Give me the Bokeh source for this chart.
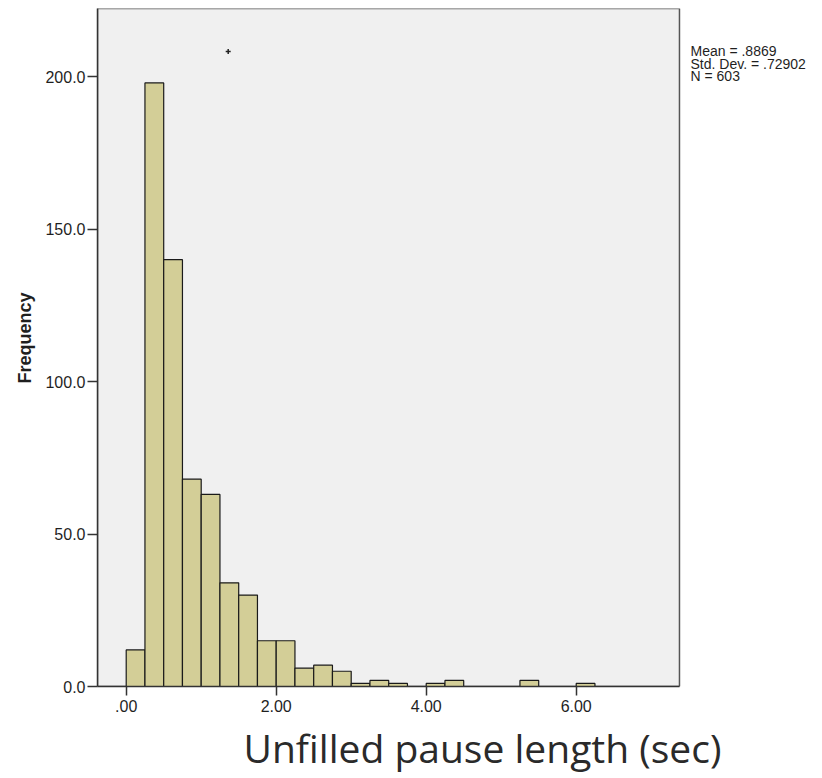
import numpy as np
from bokeh.plotting import figure
from bokeh.models import FixedTicker, PrintfTickFormatter, Range1d, Label, ColumnDataSource, Title, BoxAnnotation
from bokeh.embed import file_html
from bokeh.resources import INLINE

# ---- data ----
bin_start = 0.0
bin_width = 0.25
counts = [12, 198, 140, 68, 63, 34, 30, 15, 15, 6, 7, 5, 1, 2, 1, 0, 1, 2, 0, 0, 0, 2, 0, 0, 1]
xtick_values = [0, 2, 4, 6]
xtick_labels = [".00", "2.00", "4.00", "6.00"]
ytick_values = [0, 50, 100, 150, 200]
stats_lines = ["Mean = .8869", "Std. Dev. = .72902", "N = 603"]
stray_x = [1.36]
stray_y = [208.3]
x_title = "Unfilled pause length (sec)"
y_title = "Frequency"

# axis extents of the grey plotting box (data units)
box_left, box_right = -0.3827, 7.377
y_top = 222.4

# ---- build bins ----
lefts = [bin_start + i * bin_width for i in range(len(counts))]
rights = [l + bin_width for l in lefts]
keep = [i for i, c in enumerate(counts) if c > 0]
src = ColumnDataSource(dict(
    left=[lefts[i] for i in keep],
    right=[rights[i] for i in keep],
    top=[counts[i] for i in keep],
    bottom=[0] * len(keep),
))

p = figure(width=822, height=778, output_backend="svg", toolbar_location=None,
           min_border_left=97, min_border_right=0, min_border_top=8, min_border_bottom=92,
           x_range=Range1d(box_left, 9.284), y_range=Range1d(0, y_top))

p.background_fill_color = "white"
p.border_fill_color = "white"
p.outline_line_color = None
p.xgrid.visible = False
p.ygrid.visible = False

p.add_layout(BoxAnnotation(left=box_left, right=box_right, bottom=0, top=y_top,
                           fill_color="#F0F0F0", fill_alpha=1.0,
                           line_color="#555555", line_width=1.5, line_alpha=1.0,
                           level="underlay"))

p.quad(left="left", right="right", top="top", bottom="bottom", source=src,
       fill_color="#D3CE97", line_color="#1a1a1a", line_width=1.2)

p.scatter(stray_x, stray_y, marker="cross", size=5, line_width=1.5, line_color="#222222")

TXT = "#1f1f1f"
FONT = "Liberation Sans"

# x axis
xa = p.xaxis[0]
xa.ticker = FixedTicker(ticks=xtick_values)
xa.major_label_overrides = {v: s for v, s in zip(xtick_values, xtick_labels)}
xa.bounds = (box_left, box_right)
xa.minor_tick_line_color = None
xa.major_tick_in = 0
xa.major_tick_out = 9
xa.major_label_standoff = 4
xa.axis_line_color = "#333333"
xa.axis_line_width = 1.5
xa.major_tick_line_color = "#333333"
xa.major_tick_line_width = 1.5
xa.major_label_text_font = FONT
xa.major_label_text_font_size = "16px"
xa.major_label_text_color = TXT

# y axis
ya = p.yaxis[0]
ya.ticker = FixedTicker(ticks=ytick_values)
ya.formatter = PrintfTickFormatter(format="%.1f")
ya.minor_tick_line_color = None
ya.major_tick_in = 0
ya.major_tick_out = 10
ya.major_label_standoff = 2
ya.axis_line_color = "#333333"
ya.axis_line_width = 1.5
ya.major_tick_line_color = "#333333"
ya.major_tick_line_width = 1.5
ya.major_label_text_font = FONT
ya.major_label_text_font_size = "16px"
ya.major_label_text_color = TXT

# titles outside the frame
p.add_layout(Title(text=y_title, align="left", offset=303, standoff=15,
                   text_font=FONT, text_font_size="18px", text_font_style="bold",
                   text_color=TXT), "left")
p.add_layout(Title(text=x_title, align="left", offset=146, standoff=9,
                   text_font="Open Sans", text_font_size="39px", text_font_style="normal",
                   text_color="#2a2a2a"), "below")

# stats text (inside the widened frame, right of the grey box)
stat_y = [208.3, 204.3, 200.3]
for s, yy in zip(stats_lines, stat_y):
    p.add_layout(Label(x=7.524, y=yy, text=s, text_align="left", text_baseline="alphabetic",
                       text_font=FONT, text_font_size="14px", text_color=TXT))

open("out.html", "w").write(file_html(p, INLINE))
